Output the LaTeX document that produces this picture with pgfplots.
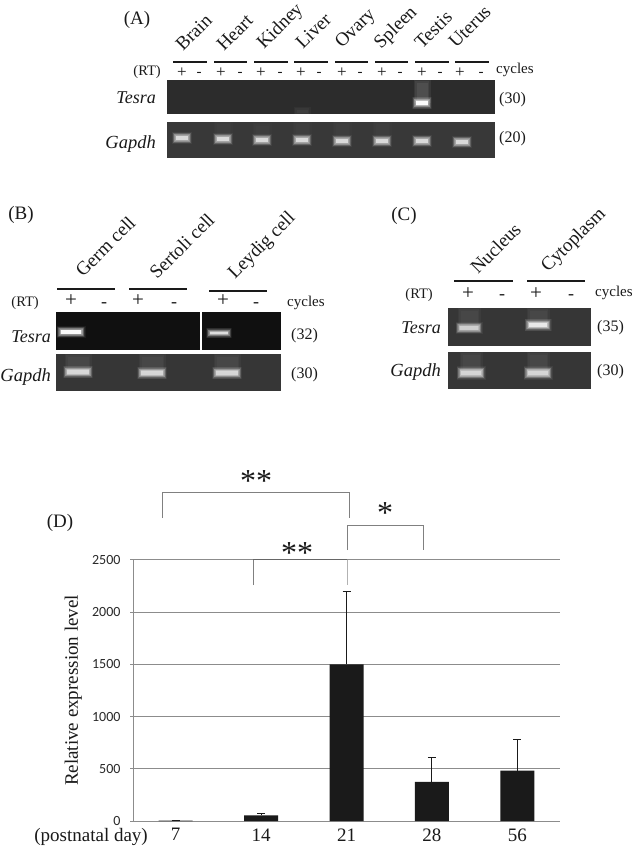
\documentclass[border=0pt]{standalone}
\usepackage{fontspec}
\setmainfont{Liberation Serif}
\newfontfamily\tickfont{Carlito}
\usepackage{pgfplots}
\usepackage{pgfplotstable}
\pgfplotsset{compat=1.18}

\definecolor{ink}{HTML}{1A1A1A}
\definecolor{gelA}{HTML}{2C2C2C}
\definecolor{gelAb}{HTML}{383838}
\definecolor{gelB}{HTML}{101010}
\definecolor{gelBb}{HTML}{363636}
\definecolor{gelC}{HTML}{363636}
\definecolor{brk}{HTML}{808080}
\definecolor{gridc}{HTML}{8C8C8C}

\newcommand{\fs}[1]{\fontsize{#1}{#1}\selectfont}
\tikzset{lb/.style={inner sep=0pt, text=ink}}

% rounded rectangle band, half size = mark size
\pgfdeclareplotmark{band}{%
  \pgfsetcornersarced{\pgfpoint{.8\pgfplotmarksize}{.8\pgfplotmarksize}}%
  \pgfpathrectangle{\pgfpoint{-\pgfplotmarksize}{-\pgfplotmarksize}}{\pgfpoint{2\pgfplotmarksize}{2\pgfplotmarksize}}%
  \pgfusepathqfill}

% one layer: table, half width, half height, colour, opacity
\newcommand{\layer}[5]{%
  \pgfmathsetmacro{\ratio}{#2/#3}%
  \edef\temp{\noexpand\addplot[only marks, mark=band, mark size=#3pt,
    mark options={fill=#4, fill opacity=#5, xscale=\ratio}] table {\noexpand#1};}%
  \temp}
% layer grown by an offset: table, half width, half height, offset, opacity
\newcommand{\grown}[5]{%
  \pgfmathsetmacro{\wl}{#2+#4}\pgfmathsetmacro{\hl}{#3+#4}%
  \layer{#1}{\wl}{\hl}{white}{#5}}
% band with soft edge: table, half width, half height, strength of the core
\newcommand{\bands}[4]{%
  \grown{#1}{#2}{#3}{3}{.05}
  \grown{#1}{#2}{#3}{2.4}{.08}
  \grown{#1}{#2}{#3}{1.8}{.11}
  \grown{#1}{#2}{#3}{1.2}{.14}
  \grown{#1}{#2}{#3}{.6}{.17}
  \grown{#1}{#2}{#3}{0}{.20}
  \grown{#1}{#2}{#3}{-.6}{.24}
  \grown{#1}{#2}{#3}{-1.2}{#4}}
% soft vertical smear above a band
\newcommand{\smear}[4]{%
  \grown{#1}{#2}{#3}{1.5}{#4}
  \grown{#1}{#2}{#3}{0}{#4}
  \grown{#1}{#2}{#3}{-1.5}{#4}}

\pgfplotstableread{
x y
182 138
223 139
262 140
302 140
342 141
382 141
422 141
462 142
}\tAgapdh
\pgfplotstableread{
x y
223 131
262 133
302 131
342 131
382 131
}\tAsmear
\pgfplotstableread{
x y
422 103
}\tAtesra
\pgfplotstableread{
x y
422 91
}\tAtesmear
\pgfplotstableread{
x y
302 111
}\tAliver
\pgfplotstableread{
x y
71 332
}\tBgerm
\pgfplotstableread{
x y
219 333
}\tBleydig
\pgfplotstableread{
x y
78 372
152 373
227 373
}\tBgapdh
\pgfplotstableread{
x y
78 364
152 364
227 364
}\tBsmear
\pgfplotstableread{
x y
469 328
}\tCtn
\pgfplotstableread{
x y
538 325
}\tCtc
\pgfplotstableread{
x y
471 373
538 373
}\tCg
\pgfplotstableread{
x y
469 318
538 318
471 362
538 362
}\tCsmear

% day, level, error
\pgfplotstableread{
x y err
0 3 2
1 55 17
2 1500 700
3 375 232
4 482 303
}\tD

\begin{document}
\begin{tikzpicture}
\begin{axis}[
    at={(0pt,0pt)}, anchor=south west,
    scale only axis, width=632pt, height=846pt,
    xmin=0, xmax=632, ymin=0, ymax=846, y dir=reverse,
    hide axis,
]
\addplot[draw=none, fill=white] coordinates {(0,0)(632,0)(632,846)(0,846)} -- cycle;

% gels
\addplot[draw=none, fill=gelA] coordinates {(167,80)(495,80)(495,114)(167,114)} -- cycle;
\addplot[draw=none, fill=gelAb] coordinates {(167,122)(495,122)(495,158)(167,158)} -- cycle;
\addplot[draw=none, fill=gelB] coordinates {(56,312)(281,312)(281,350)(56,350)} -- cycle;
\addplot[draw=none, fill=gelBb] coordinates {(56,354)(281,354)(281,391)(56,391)} -- cycle;
\addplot[draw=none, fill=gelC] coordinates {(448,308)(591,308)(591,346)(448,346)} -- cycle;
\addplot[draw=none, fill=gelC] coordinates {(448,352)(591,352)(591,389)(448,389)} -- cycle;
\addplot[white, line width=1.6pt] coordinates {(201,312)(201,350)};

% bands
\smear{\tAsmear}{8}{9}{0.012}
\smear{\tAliver}{7}{3}{0.03}
\bands{\tAgapdh}{7}{3}{.45}
\smear{\tAtesmear}{7}{10}{0.06}
\bands{\tAtesra}{7}{3.2}{.95}
\bands{\tBgerm}{11.5}{3}{.95}
\bands{\tBleydig}{10}{2.2}{.6}
\smear{\tBsmear}{12}{9}{0.03}
\bands{\tBgapdh}{12}{3.2}{.4}
\smear{\tCsmear}{10}{9}{0.03}
\bands{\tCtn}{10.5}{3}{.3}
\bands{\tCtc}{10.5}{3.2}{.65}
\bands{\tCg}{11.5}{3.6}{.4}

% lane lines
\addplot[ink, line width=1.3pt] coordinates {(173,62)(207,62)};
\addplot[ink, line width=1.3pt] coordinates {(214,62)(247,62)};
\addplot[ink, line width=1.3pt] coordinates {(254,62)(288,62)};
\addplot[ink, line width=1.3pt] coordinates {(294,62)(328,62)};
\addplot[ink, line width=1.3pt] coordinates {(335,62)(368,62)};
\addplot[ink, line width=1.3pt] coordinates {(375,62)(408,62)};
\addplot[ink, line width=1.3pt] coordinates {(415,62)(449,62)};
\addplot[ink, line width=1.3pt] coordinates {(455,62)(489,62)};
\addplot[ink, line width=1.3pt] coordinates {(57,289)(115,289)};
\addplot[ink, line width=1.3pt] coordinates {(129,289)(187,289)};
\addplot[ink, line width=1.3pt] coordinates {(209,291)(267,291)};
\addplot[ink, line width=1.3pt] coordinates {(454,281)(513,281)};
\addplot[ink, line width=1.3pt] coordinates {(527,281)(585,281)};

% significance brackets
\addplot[brk, line width=.8pt] coordinates {(162,518)(162,492)(349,492)(349,518)};
\addplot[brk, line width=.8pt] coordinates {(253,585)(253,559)};
\addplot[gray!60, line width=.8pt] coordinates {(347,559)(347,585)};
\addplot[brk, line width=.8pt] coordinates {(347,550)(347,525)(423,525)(423,550)};

% panel letters
\node[lb, anchor=base, font=\fs{19}] at (axis cs:137,24) {(A)};
\node[lb, anchor=base, font=\fs{19}] at (axis cs:21,219) {(B)};
\node[lb, anchor=base, font=\fs{19}] at (axis cs:404,220) {(C)};
\node[lb, anchor=base, font=\fs{19}] at (axis cs:60,527) {(D)};

% sample names, panel A
\foreach \n/\x/\y in {Brain/183/52,Heart/224/52,Kidney/264/50,Liver/303/50,Ovary/342/49,Spleen/381/50,Testis/422/50,Uterus/456/49}{
  \edef\temp{\noexpand\node[lb, anchor=base west, rotate=45, font=\noexpand\fs{19}] at (axis cs:\x,\y) {\n};}\temp}
% panel B, C
\node[lb, anchor=base west, rotate=45, font=\fs{19}] at (axis cs:83,278) {Germ cell};
\node[lb, anchor=base west, rotate=45, font=\fs{19}] at (axis cs:157,280) {Sertoli cell};
\node[lb, anchor=base west, rotate=45, font=\fs{19}] at (axis cs:235,280) {Leydig cell};
\node[lb, anchor=base west, rotate=45, font=\fs{19}] at (axis cs:478,275) {Nucleus};
\node[lb, anchor=base west, rotate=45, font=\fs{19}] at (axis cs:548,273) {Cytoplasm};

% RT rows
\node[lb, anchor=base east, font=\fs{14.5}] at (axis cs:161,75) {(RT)};
\node[lb, anchor=base east, font=\fs{14.5}] at (axis cs:39,306) {(RT)};
\node[lb, anchor=base east, font=\fs{14.5}] at (axis cs:433,298) {(RT)};
\node[lb, anchor=base west, font=\fs{15}] at (axis cs:496,73) {cycles};
\node[lb, anchor=base west, font=\fs{15}] at (axis cs:287,306) {cycles};
\node[lb, anchor=base west, font=\fs{15}] at (axis cs:595,296) {cycles};

\foreach \x in {182,221,261,301,342,382,422,460}{
  \edef\temp{\noexpand\node[lb, anchor=base, font=\noexpand\fs{17}] at (axis cs:\x,77) {+};}\temp}
\foreach \x in {199,240,280,319,360,400,440,481}{
  \edef\temp{\noexpand\node[lb, anchor=base, font=\noexpand\fs{15}] at (axis cs:\x,76) {-};}\temp}
\foreach \x in {71,138,223}{
  \edef\temp{\noexpand\node[lb, anchor=base, font=\noexpand\fs{21}] at (axis cs:\x,306) {+};}\temp}
\foreach \x in {104,174,256}{
  \edef\temp{\noexpand\node[lb, anchor=base, font=\noexpand\fs{18}] at (axis cs:\x,307) {-};}\temp}
\foreach \x in {468,536}{
  \edef\temp{\noexpand\node[lb, anchor=base, font=\noexpand\fs{21}] at (axis cs:\x,299) {+};}\temp}
\foreach \x in {502,571}{
  \edef\temp{\noexpand\node[lb, anchor=base, font=\noexpand\fs{18}] at (axis cs:\x,299) {-};}\temp}

% gene names
\node[lb, anchor=base east, font=\fs{18}\itshape] at (axis cs:156,103) {Tesra};
\node[lb, anchor=base east, font=\fs{18.5}\itshape] at (axis cs:156,148) {Gapdh};
\node[lb, anchor=base east, font=\fs{18}\itshape] at (axis cs:51,342) {Tesra};
\node[lb, anchor=base east, font=\fs{18.5}\itshape] at (axis cs:51,381) {Gapdh};
\node[lb, anchor=base east, font=\fs{18}\itshape] at (axis cs:441,333) {Tesra};
\node[lb, anchor=base east, font=\fs{18.5}\itshape] at (axis cs:441,376) {Gapdh};

% cycle counts
\node[lb, anchor=base west, font=\fs{16}] at (axis cs:499,103) {(30)};
\node[lb, anchor=base west, font=\fs{16}] at (axis cs:499,142) {(20)};
\node[lb, anchor=base west, font=\fs{16}] at (axis cs:291,339) {(32)};
\node[lb, anchor=base west, font=\fs{16}] at (axis cs:291,378) {(30)};
\node[lb, anchor=base west, font=\fs{16}] at (axis cs:597,331) {(35)};
\node[lb, anchor=base west, font=\fs{16}] at (axis cs:597,375) {(30)};

% stars
\node[lb, anchor=center, font=\fs{32}] at (axis cs:256,481) {**};
\node[lb, anchor=center, font=\fs{32}] at (axis cs:297,553) {**};
\node[lb, anchor=center, font=\fs{32}] at (axis cs:385,513) {*};

\node[lb, anchor=base east, font=\fs{19}] at (axis cs:148,841) {(postnatal day)};
\end{axis}

\begin{axis}[
    at={(133pt,25pt)}, anchor=south west,
    scale only axis, width=427pt, height=261pt,
    xmin=-0.5, xmax=4.5, ymin=0, ymax=2500,
    clip=false,
    axis x line*=bottom, axis y line*=left,
    axis line style={gridc, line width=1pt, -},
    xtick={0,1,2,3,4}, xticklabels={7,14,21,28,56},
    xtick style={draw=none},
    ytick={0,500,1000,1500,2000,2500},
    ytick style={gridc, line width=1pt},
    tick align=outside, major tick length=3pt,
    ymajorgrids, grid style={gridc, line width=1pt},
    /pgf/number format/assume math mode=true,
    /pgf/number format/1000 sep={},
    xticklabel style={font=\fs{19}, text=ink, yshift=-1pt},
    yticklabel style={font=\tickfont\fs{14}, text=ink!85!gray, xshift=-6pt},
    ylabel={Relative expression level},
    ylabel style={font=\fs{19}, text=ink, at={(axis description cs:-0.14,0.5)}, anchor=center},
]
\addplot[ybar, bar width=34pt, bar shift=0pt, fill=ink, draw=none, error bars/.cd, y dir=plus, y explicit,
    error bar style={ink, line width=1pt}, error mark options={rotate=90, mark size=4pt, ink, line width=1pt}]
    table[x=x, y=y, y error=err] {\tD};
% bracket top between day 14 and day 21 lies on the top grid line
\addplot[draw=gray!80!black, line width=1.3pt, mark=none] coordinates {(0.91,2505)(2.0,2505)};
\end{axis}
\end{tikzpicture}
\end{document}
